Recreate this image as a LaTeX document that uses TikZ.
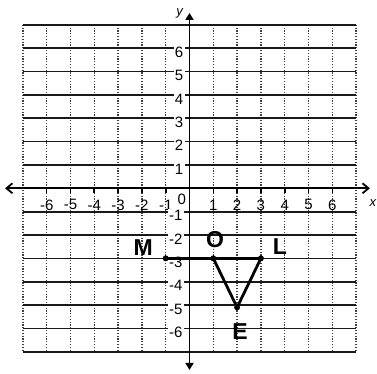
\documentclass[tikz,border=0pt]{standalone}
\usepackage{fontspec}
\setmainfont{Liberation Sans}
\usetikzlibrary{arrows.meta}
\begin{document}
\begin{tikzpicture}[x=23.8pt,y=23.35pt,
  hline/.style={line width=1.7pt, black!90},
  vline/.style={line width=1.4pt, black!75, dash pattern=on 1.2pt off 1.6pt},
  xaxis/.style={line width=1.8pt, {Straight Barb[length=6pt,width=10pt,line width=1.8pt]}-{Straight Barb[length=6pt,width=10pt,line width=1.8pt]}},
  yaxis/.style={line width=1.8pt, {Triangle[length=7pt,width=8pt]}-{Triangle[length=7pt,width=8pt]}},
  ticklab/.style={font=\fontsize{15}{15}\selectfont, inner sep=1.2pt},
  ylab/.style={ticklab, fill=white, anchor=east},
  dotpt/.style={circle, fill=black, inner sep=0pt, minimum size=6pt},
  hand/.style={font=\fontsize{23}{23}\selectfont\bfseries, inner sep=0pt},
  seg/.style={line width=2.8pt}]
\useasboundingbox (-7.962,-7.910) rectangle (7.878,8.064);
\fill[white] (-7.962,-7.910) rectangle (7.878,8.064);
% grid
\foreach \x in {-7,...,-1,1,2,...,7} \draw[vline] (\x,7) -- (\x,-7);
\foreach \y in {-7,...,-1,1,2,...,7} \draw[hline] (-7,\y) -- (7,\y);
% axes
\coordinate (xl) at (-7.75,0);
\coordinate (xr) at (7.58,0);
\coordinate (yt) at (0,7.51);
\coordinate (yb) at (0,-7.78);
\draw[xaxis] (xl) -- (xr);
\draw[yaxis] (yb) -- (yt);
\foreach \x in {-6,...,-1,1,2,...,6} \draw[line width=1.6pt] (\x,0) -- (\x,-0.22);
% x labels
\foreach \x in {-6,...,-1,1,2,...,6} \node[ticklab] (xt\x) at (\x,-0.71) {\x};
\node[ticklab] (zero) at (-0.32,-0.46) {0};
% y labels
\foreach \y in {1,...,6} \node[ylab] (yp\y) at (-0.2,\y-0.17) {\y};
\foreach \y in {-1,...,-6} \node[ylab] (yn\y) at (-0.24,\y-0.17) {\y};
\node[font=\fontsize{13}{13}\selectfont\itshape] (ylabel) at (-0.42,7.5) {y};
\node[font=\fontsize{13}{13}\selectfont\itshape, inner sep=0pt] (xlabel) at (7.7,-0.63) {x};
% figure
\node[dotpt] (M) at (-1,-3) {};
\node[dotpt] (O) at (1,-3) {};
\node[dotpt] (L) at (3,-3) {};
\node[dotpt] (E) at (2,-5.1) {};
\draw[seg] (M.center) -- (O.center) -- (L.center);
\draw[seg, line join=round] (O.center) -- (E.center) -- (L.center);
\node[hand] (Mlab) at (-1.95,-2.56) {M};
\node[hand] (Olab) at (1.07,-2.21) {O};
\node[hand] (Llab) at (3.8,-2.51) {L};
\node[hand] (Elab) at (2.12,-6.15) {E};
\end{tikzpicture}
\end{document}
